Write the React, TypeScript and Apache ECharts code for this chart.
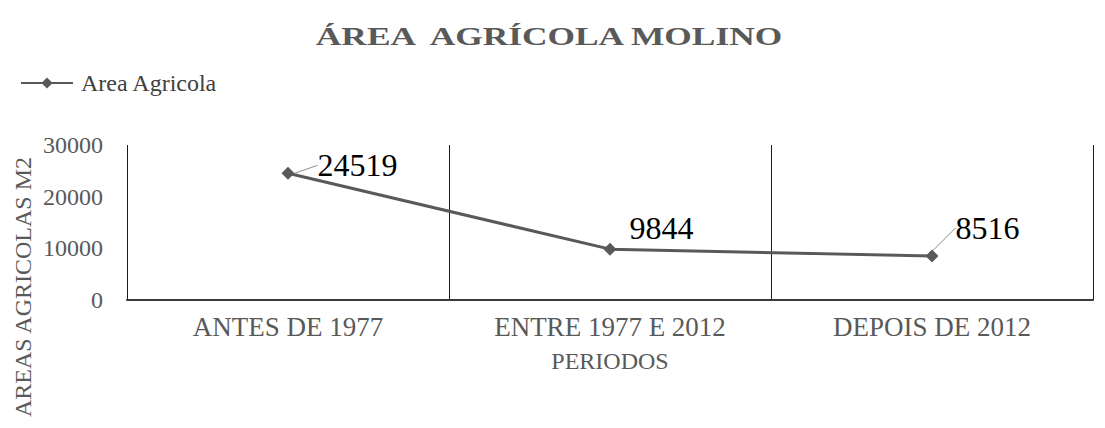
import React, { useEffect, useRef } from "react";
import * as echarts from "echarts";

const titleText = "ÁREA  AGRÍCOLA MOLINO";
const seriesName = "Area Agricola";
const categories = ["ANTES DE 1977", "ENTRE 1977 E 2012", "DEPOIS DE 2012"];
const areaValues = [24519, 9844, 8516];
const yTicks = { min: 0, max: 30000, interval: 10000 };
const xAxisName = "PERIODOS";
const yAxisName = "AREAS AGRICOLAS M2";

// label layout offsets (style, not data)
const labelShift = [
  { dx: 18, dy: -8, line: true },
  { dx: 8, dy: -21, line: false },
  { dx: 12, dy: -28, line: true },
];

const SERIF = "Liberation Serif";
const GREY = "#595959";

export default function App() {
  const ref = useRef<HTMLDivElement>(null);
  useEffect(() => {
    if (!ref.current) return;
    const chart = echarts.init(ref.current, null, { renderer: "svg" });
    chart.setOption({
      animation: false,
      backgroundColor: "#ffffff",
      textStyle: { fontFamily: SERIF },
      grid: { left: 127, right: 12, top: 145, bottom: 128, containLabel: false },
      legend: {
        left: 20,
        top: 71,
        padding: 0,
        itemWidth: 52,
        itemHeight: 14,
        itemGap: 10,
        data: [seriesName],
        textStyle: {
          fontFamily: SERIF,
          fontSize: 24,
          color: "#404040",
          lineHeight: 24,
          padding: [0, 0, 0, 3],
        },
      },
      graphic: [
        {
          type: "text",
          x: 549,
          y: 36,
          scaleX: 1.36,
          style: {
            text: titleText,
            fontFamily: SERIF,
            fontSize: 26,
            fontWeight: "bold",
            fill: GREY,
            textAlign: "center",
            textVerticalAlign: "middle",
          },
        },
        {
          type: "text",
          x: 23,
          y: 287,
          rotation: Math.PI / 2,
          style: {
            text: yAxisName,
            fontFamily: SERIF,
            fontSize: 24,
            fill: GREY,
            textAlign: "center",
            textVerticalAlign: "middle",
          },
        },
      ],
      xAxis: {
        type: "category",
        data: categories,
        boundaryGap: true,
        name: xAxisName,
        nameLocation: "middle",
        nameGap: 49,
        nameTextStyle: { fontFamily: SERIF, fontSize: 24, color: GREY },
        axisLine: { show: true, lineStyle: { color: "#3a3a3a", width: 2 } },
        axisTick: { show: false },
        axisLabel: {
          fontFamily: SERIF,
          fontSize: 27,
          lineHeight: 26,
          margin: 14,
          color: GREY,
        },
        splitLine: { show: true, lineStyle: { color: "#1a1a1a", width: 1 } },
      },
      yAxis: {
        type: "value",
        min: yTicks.min,
        max: yTicks.max,
        interval: yTicks.interval,
        axisLine: { show: false },
        axisTick: { show: false },
        splitLine: { show: false },
        axisLabel: {
          fontFamily: SERIF,
          fontSize: 24,
          margin: 24,
          color: GREY,
          formatter: (v: number) => String(v),
        },
      },
      series: [
        {
          name: seriesName,
          type: "line",
          data: areaValues.map((v, i) => ({
            value: v,
            labelLine: { show: labelShift[i].line },
          })),
          symbol: "diamond",
          symbolSize: 13,
          itemStyle: { color: GREY },
          lineStyle: { color: GREY, width: 3 },
          label: {
            show: true,
            position: "right",
            distance: 5,
            fontFamily: SERIF,
            fontSize: 32,
            color: "#000000",
          },
          labelLine: {
            show: false,
            lineStyle: { color: "#8c8c8c", width: 1 },
          },
          labelLayout: (params: any) => {
            const s = labelShift[params.dataIndex];
            return { dx: s.dx, dy: s.dy };
          },
        },
      ],
    });
    return () => chart.dispose();
  }, []);
  return <div ref={ref} style={{ width: 1105, height: 428, margin: -8 }} />;
}
